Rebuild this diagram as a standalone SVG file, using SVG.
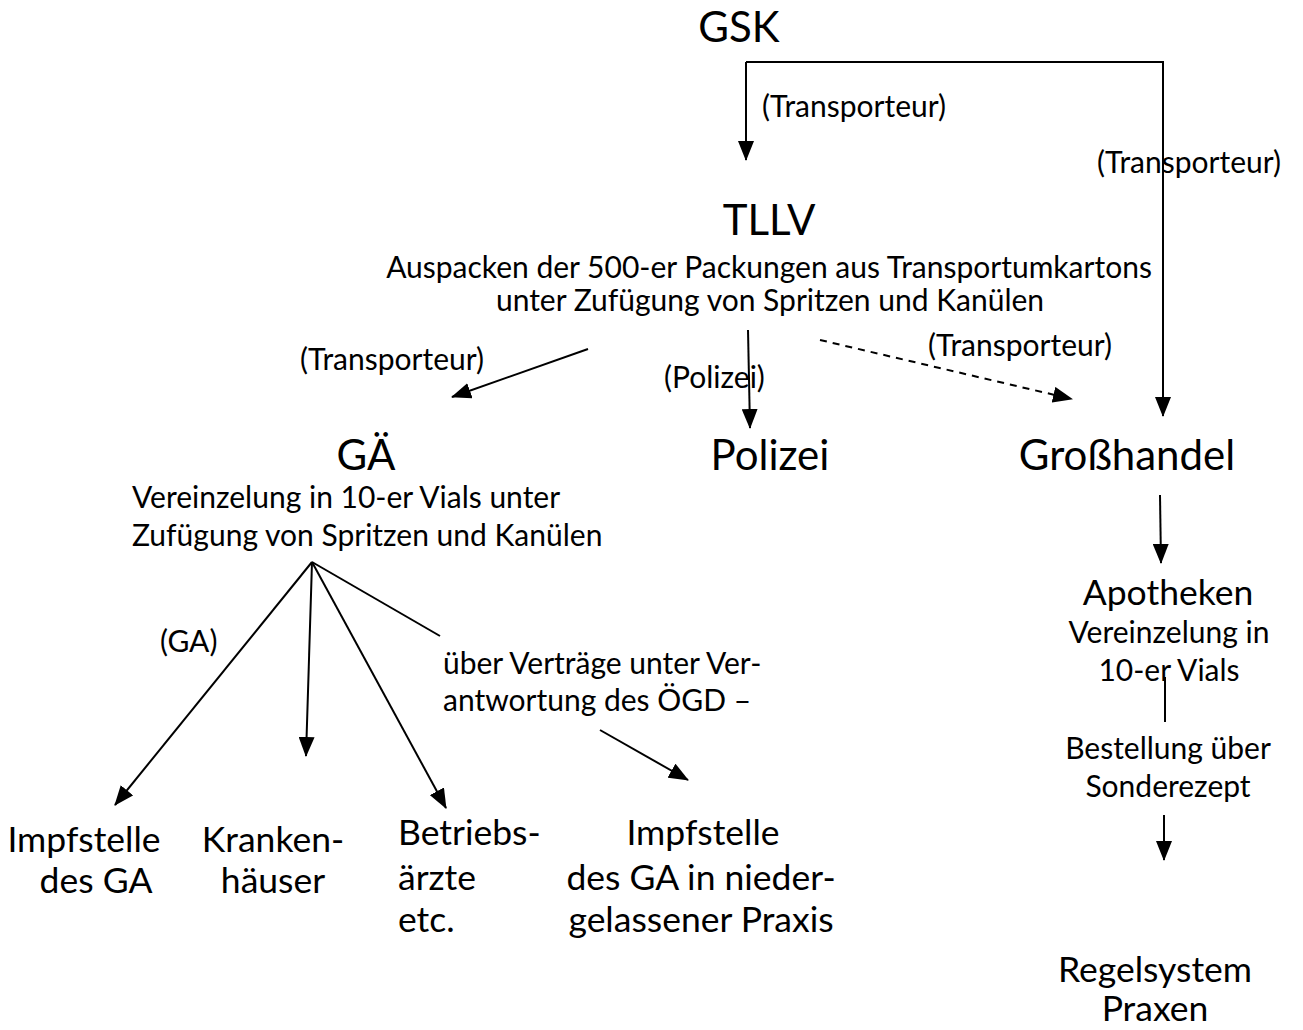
<svg xmlns="http://www.w3.org/2000/svg" width="1303" height="1030" viewBox="0 0 1303 1030">
<style>
text{font-family:Lato,"Open Sans","Liberation Sans",sans-serif;fill:#000;}
.xl{font-size:42px;text-anchor:middle;}
.l{font-size:35.5px;}
.m{font-size:30px;}
.c{text-anchor:middle;}
.ln{stroke:#000;stroke-width:2;fill:none;}
.ar{marker-end:url(#ah);}
.ds{stroke-dasharray:7 6;}
</style>
<defs>
<marker id="ah" markerUnits="userSpaceOnUse" markerWidth="20" markerHeight="16" viewBox="0 0 20 16" refX="19" refY="8" orient="auto">
<path d="M0,0 L20,8 L0,16 Z" fill="#000"/>
</marker>
</defs>
<rect width="1303" height="1030" fill="#fff"/>
<g id="connectors">
<path class="ln ar" d="M746,62 V160"/>
<path class="ln ar" d="M746,62 H1163 V416"/>
<path class="ln ar" d="M588,349 L452,397"/>
<path class="ln ar" d="M748,330 L750,428"/>
<path class="ln ar ds" d="M820,340 L1072,399"/>
<path class="ln ar" d="M312,562 L115,805"/>
<path class="ln ar" d="M312,562 L306,756"/>
<path class="ln ar" d="M312,562 L446,808"/>
<path class="ln" d="M312,562 L440,636"/>
<path class="ln ar" d="M600,730 L688,780"/>
<path class="ln ar" d="M1160,495 L1161,563"/>
<path class="ln" d="M1165,677 V722"/>
<path class="ln ar" d="M1164,815 V860"/>
<text class="m" x="762" y="117">(Transporteur)</text>
<text class="m" x="1097" y="173">(Transporteur)</text>
<text class="m" x="300" y="370">(Transporteur)</text>
<text class="m" x="664" y="388">(Polizei)</text>
<text class="m" x="928" y="356">(Transporteur)</text>
<text class="m" x="160" y="652">(GA)</text>
<text class="m" x="443" y="674">über Verträge unter Ver-</text>
<text class="m" x="443" y="711">antwortung des ÖGD –</text>
</g>
<g id="gsk"><text class="xl" x="739" y="42">GSK</text></g>
<g id="tllv">
<text class="xl" x="769" y="235">TLLV</text>
<text class="m c" x="769" y="278">Auspacken der 500-er Packungen aus Transportumkartons</text>
<text class="m c" x="770" y="311">unter Zufügung von Spritzen und Kanülen</text>
</g>
<g id="ga">
<text class="xl" x="366" y="470">GÄ</text>
<text class="m" x="132" y="508">Vereinzelung in 10-er Vials unter</text>
<text class="m" x="132" y="546">Zufügung von Spritzen und Kanülen</text>
</g>
<g id="polizei"><text class="xl" x="770" y="470">Polizei</text></g>
<g id="grosshandel"><text class="xl" x="1127" y="470">Großhandel</text></g>
<g id="apotheken">
<text class="l c" x="1168" y="605">Apotheken</text>
<text class="m c" x="1169" y="643">Vereinzelung in</text>
<text class="m c" x="1169" y="681">10-er Vials</text>
<text class="m c" x="1168" y="759">Bestellung über</text>
<text class="m c" x="1168" y="797">Sonderezept</text>
</g>
<g id="regelsystem">
<text class="l c" x="1155" y="982">Regelsystem</text>
<text class="l c" x="1155" y="1021">Praxen</text>
</g>
<g id="impfstelle-ga">
<text class="l c" x="84" y="852">Impfstelle</text>
<text class="l c" x="96" y="893">des GA</text>
</g>
<g id="krankenhaeuser">
<text class="l c" x="273" y="852">Kranken-</text>
<text class="l c" x="273" y="893">häuser</text>
</g>
<g id="betriebsaerzte">
<text class="l" x="398" y="845">Betriebs-</text>
<text class="l" x="398" y="890">ärzte</text>
<text class="l" x="398" y="932">etc.</text>
</g>
<g id="impfstelle-praxis">
<text class="l c" x="703" y="845">Impfstelle</text>
<text class="l c" x="701" y="890">des GA in nieder-</text>
<text class="l c" x="701" y="932">gelassener Praxis</text>
</g>
</svg>
